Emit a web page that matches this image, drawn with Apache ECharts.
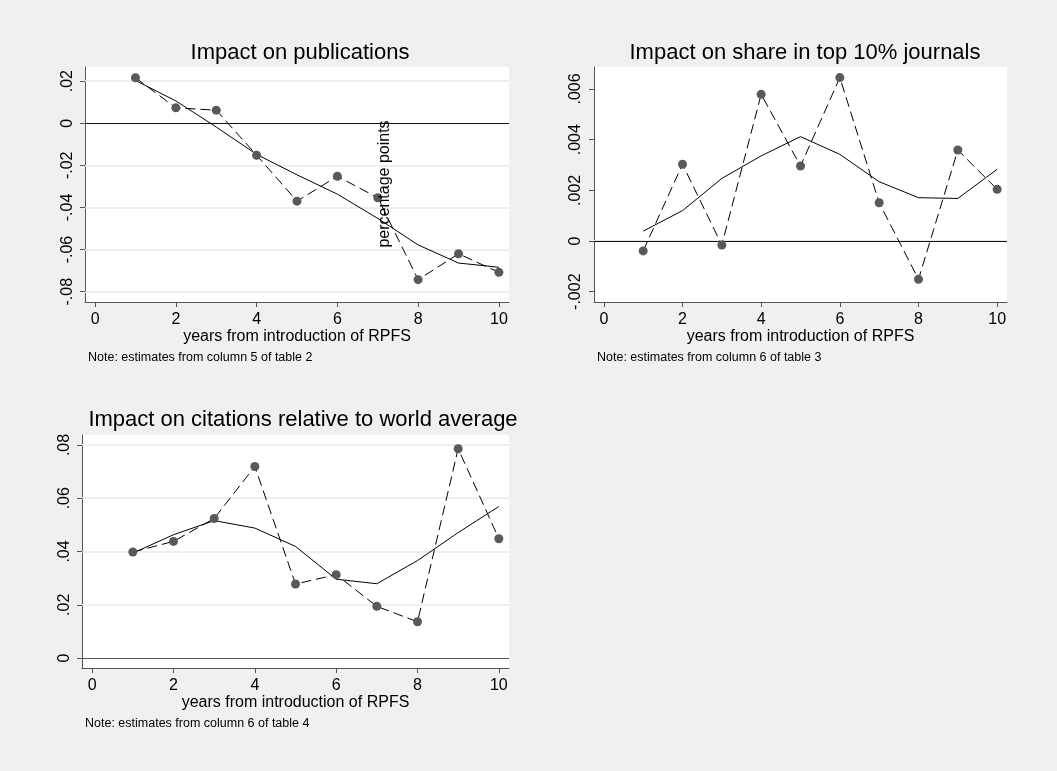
<!DOCTYPE html>
<html>
<head>
<meta charset="utf-8">
<script src="https://cdn.jsdelivr.net/npm/echarts@6/dist/echarts.min.js"></script>
<style>
  html, body { margin: 0; padding: 0; background: #f0f0f0; }
  #chart { width: 1057px; height: 771px; }
</style>
</head>
<body>
<div id="chart"></div>
<script>
// 数据：各年份估计值（虚线+点）与拟合值（实线）
const years = [1, 2, 3, 4, 5, 6, 7, 8, 9, 10];
const pubEst = [0.0216, 0.0073, 0.0062, -0.0152, -0.0370, -0.0252, -0.0354, -0.0743, -0.0620, -0.0708];
const pubFit = [0.0203, 0.0106, -0.0018, -0.0148, -0.0245, -0.0337, -0.0452, -0.0578, -0.0664, -0.0684];
const topEst = [-0.00039, 0.00303, -0.00016, 0.00579, 0.00296, 0.00645, 0.00151, -0.00151, 0.00359, 0.00204];
const topFit = [0.00039, 0.00120, 0.00247, 0.00336, 0.00412, 0.00342, 0.00234, 0.00171, 0.00168, 0.00283];
const citEst = [0.0398, 0.0438, 0.0524, 0.0719, 0.0278, 0.0313, 0.0194, 0.0136, 0.0786, 0.0448];
const citFit = [0.0394, 0.0463, 0.0516, 0.0488, 0.0419, 0.0296, 0.0279, 0.0366, 0.0471, 0.0569];

// 刻度
const xTicks = [0, 2, 4, 6, 8, 10];
const pubTicks = [-0.08, -0.06, -0.04, -0.02, 0, 0.02];
const topTicks = [-0.002, 0, 0.002, 0.004, 0.006];
const citTicks = [0, 0.02, 0.04, 0.06, 0.08];

const titles = ["Impact on publications", "Impact on share in top 10% journals", "Impact on citations relative to world average"];
const notes = ["Note: estimates from column 5 of table 2", "Note: estimates from column 6 of table 3", "Note: estimates from column 6 of table 4"];
const xName = "years from introduction of RPFS";

const FONT = "Liberation Sans, Arial, sans-serif";
const axisColor = "#555";

function fmt(v) {
    if (v === 0) return "0";
    return String(v).replace("0.", ".");
}

function pairs(arr) {
    return years.map(function (y, i) { return [y, arr[i]]; });
}

let grids = [
    { left: 85, top: 67, width: 424, height: 235 },
    { left: 594, top: 67, width: 413, height: 235 },
    { left: 82, top: 435, width: 427, height: 233 }
];
let yRanges = [[-0.0849, 0.0267], [-0.002407, 0.006868], [-0.00375, 0.08375]];
let yTickSets = [pubTicks, topTicks, citTicks];
let estSets = [pubEst, topEst, citEst];
let fitSets = [pubFit, topFit, citFit];
let zeroColor = ["#111", "#111", "#555"];
let yMargin = [9, 10, 9];

let option = {
    backgroundColor: "#f0f0f0",
    animation: false,
    textStyle: { fontFamily: FONT },
    grid: grids.map(function (g) {
        return Object.assign({ show: true, backgroundColor: "#fff", borderWidth: 0 }, g);
    }),
    xAxis: [],
    yAxis: [],
    series: [],
    graphic: []
};

for (let i = 0; i < 3; i++) {
    option.xAxis.push({
        type: "value",
        gridIndex: i,
        min: -0.25,
        max: 10.25,
        name: xName,
        nameLocation: "middle",
        nameGap: 25,
        nameTextStyle: { color: "#000", fontSize: 16, fontFamily: FONT },
        axisLine: { show: true, onZero: false, lineStyle: { color: axisColor, width: 1 } },
        axisTick: { show: true, inside: false, length: 5, customValues: xTicks, lineStyle: { color: axisColor } },
        axisLabel: { customValues: xTicks, color: "#000", fontSize: 16, margin: 10, fontFamily: FONT },
        splitLine: { show: false }
    });
    option.yAxis.push({
        type: "value",
        gridIndex: i,
        min: yRanges[i][0],
        max: yRanges[i][1],
        axisLine: { show: true, onZero: false, lineStyle: { color: axisColor, width: 1 } },
        axisTick: { show: true, inside: false, length: 5, customValues: yTickSets[i], lineStyle: { color: axisColor } },
        axisLabel: {
            customValues: yTickSets[i], rotate: 90, color: "#000", fontSize: 16,
            margin: yMargin[i], fontFamily: FONT, formatter: fmt
        },
        splitLine: { show: false }
    });
    // 网格线和零线
    let gridLines = yTickSets[i].filter(function (v) { return v !== 0; }).map(function (v) {
        return { yAxis: v, lineStyle: { color: "#e9e9e9", width: 1.5, type: "solid" } };
    });
    gridLines.push({ yAxis: 0, lineStyle: { color: zeroColor[i], width: 1, type: "solid" } });
    option.series.push({
        type: "line",
        xAxisIndex: i,
        yAxisIndex: i,
        data: pairs(fitSets[i]),
        symbol: "none",
        lineStyle: { color: "#000", width: 1, type: "solid" },
        z: 3,
        markLine: {
            silent: true,
            symbol: "none",
            z: 1,
            label: { show: false },
            data: gridLines
        }
    });
    option.series.push({
        type: "line",
        xAxisIndex: i,
        yAxisIndex: i,
        data: pairs(estSets[i]),
        symbol: "circle",
        symbolSize: 9,
        showSymbol: true,
        itemStyle: { color: "#595959" },
        lineStyle: { color: "#000", width: 1, type: [10, 5] },
        z: 4
    });
}

// 标题与注释
let titlePos = [[300, 53], [805, 53], [303, 420]];
let notePos = [[88, 358], [597, 358], [85, 724]];
for (let i = 0; i < 3; i++) {
    option.graphic.push({
        type: "text",
        x: titlePos[i][0],
        y: titlePos[i][1],
        style: { text: titles[i], fill: "#000", font: "22px " + FONT, align: "center", verticalAlign: "middle" }
    });
    option.graphic.push({
        type: "text",
        x: notePos[i][0],
        y: notePos[i][1],
        style: { text: notes[i], fill: "#000", font: "12.5px " + FONT, align: "left", verticalAlign: "middle" }
    });
}
// 错位的纵轴标题
option.graphic.push({
    type: "text",
    x: 385,
    y: 184,
    rotation: Math.PI / 2,
    z: 10,
    style: { text: "percentage points", fill: "#000", font: "16px " + FONT, align: "center", verticalAlign: "middle" }
});

let myChart = echarts.init(document.getElementById("chart"), null, { renderer: "canvas" });
myChart.setOption(option);
</script>
</body>
</html>
